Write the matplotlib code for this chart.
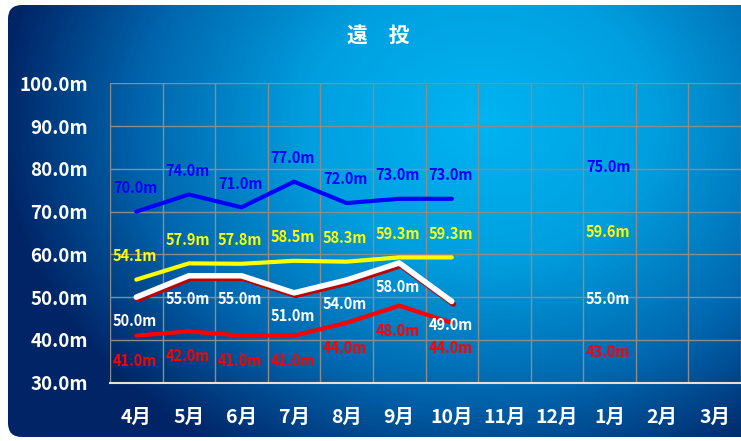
import numpy as np
import matplotlib
matplotlib.use("Agg")
import matplotlib.pyplot as plt
from matplotlib.colors import LinearSegmentedColormap
from matplotlib.patches import FancyBboxPatch
import matplotlib.patheffects as pe

plt.rcParams['font.family'] = ['Noto Sans CJK JP', 'DejaVu Sans']

months = ["4月", "5月", "6月", "7月", "8月", "9月", "10月", "11月", "12月", "1月", "2月", "3月"]
nan = np.nan
blue_vals = [70.0, 74.0, 71.0, 77.0, 72.0, 73.0, 73.0, nan, nan, 75.0, nan, nan]
yellow_vals = [54.1, 57.9, 57.8, 58.5, 58.3, 59.3, 59.3, nan, nan, 59.6, nan, nan]
white_vals = [50.0, 55.0, 55.0, 51.0, 54.0, 58.0, 49.0, nan, nan, 55.0, nan, nan]
red_vals = [41.0, 42.0, 41.0, 41.0, 44.0, 48.0, 44.0, nan, nan, 43.0, nan, nan]
y_ticks = [30, 40, 50, 60, 70, 80, 90, 100]

W, H = 741, 441
fig = plt.figure(figsize=(W / 100, H / 100), dpi=100)
fig.patch.set_facecolor("white")

# background with rounded box + radial gradient
bg = fig.add_axes([0, 0, 1, 1], zorder=-5)
bg.set_xlim(0, W)
bg.set_ylim(H, 0)
bg.axis("off")
xx, yy = np.meshgrid(np.arange(W), np.arange(H))
d = np.sqrt(((xx - 480) / 420.0) ** 2 + ((yy - 120) / 340.0) ** 2)
cmap = LinearSegmentedColormap.from_list(
    "bg", [(0.0, "#00b4f2"), (0.35, "#00a0e0"), (0.7, "#0066ae"), (1.0, "#002466")])
im = bg.imshow(np.clip(d / 1.15, 0, 1), cmap=cmap, vmin=0, vmax=1,
               extent=(0, W, H, 0), aspect="auto", interpolation="bilinear")
box = FancyBboxPatch((8, 5), W + 30, 432, boxstyle="round,pad=0,rounding_size=14",
                     transform=bg.transData, facecolor="none", edgecolor="none")
bg.add_patch(box)
im.set_clip_path(box)

ax = fig.add_axes([110 / W, 1 - 382.7 / H, 631 / W, (382.7 - 83.3) / H])
ax.set_facecolor("none")
x = np.arange(len(months))
ax.set_xlim(-0.5, len(months) - 0.5)
ax.set_ylim(30, 100)

# grid
for b in np.arange(-0.5, len(months), 1.0):
    ax.axvline(b, color="#8c8c8c", lw=1.0, zorder=1)
for t in y_ticks[1:]:
    ax.axhline(t, color="#8c8c8c", lw=1.0, zorder=1)
for s in ["left", "right", "top"]:
    ax.spines[s].set_visible(False)
ax.spines["bottom"].set_color("#e0e0e0")
ax.spines["bottom"].set_linewidth(1.5)

ax.set_yticks(y_ticks)
ax.set_yticklabels([f"{t:.1f}m" for t in y_ticks], color="white",
                   fontsize=13.5, fontweight="bold")
ax.set_xticks(x)
ax.set_xticklabels(months, color="white", fontsize=14, fontweight="bold")
ax.tick_params(length=0)
ax.tick_params(axis="y", pad=16)
ax.tick_params(axis="x", pad=18)

ax.plot(x, blue_vals, color="#0000ff", lw=3, solid_capstyle="round", zorder=3)
ax.plot(x, yellow_vals, color="#ffff00", lw=3, solid_capstyle="round", zorder=3)
ax.plot(x, white_vals, color="white", lw=4, solid_capstyle="round", zorder=4,
        path_effects=[pe.SimpleLineShadow(offset=(1.2, -1.8), shadow_color="#c00000", alpha=1.0),
                      pe.Normal()])
ax.plot(x, red_vals, color="#ff0000", lw=3, solid_capstyle="round", zorder=3)


def put_labels(vals, color, dy):
    for i, v in enumerate(vals):
        if np.isnan(v):
            continue
        ax.annotate(f"{v:.1f}m", (x[i], v), xytext=(-1, dy), textcoords="offset points",
                    ha="center", va="center", color=color, fontsize=10.5,
                    fontweight="bold", zorder=6)


put_labels(blue_vals, "#0000ff", 17)
put_labels(yellow_vals, "#ffff00", 17)
put_labels(white_vals, "white", -17)
put_labels(red_vals, "#ff0000", -18)

fig.text(378 / W, 1 - 35 / H, "遠　投", color="white", fontsize=15,
         fontweight="bold", ha="center", va="center")

fig.savefig("out.png", dpi=100)
